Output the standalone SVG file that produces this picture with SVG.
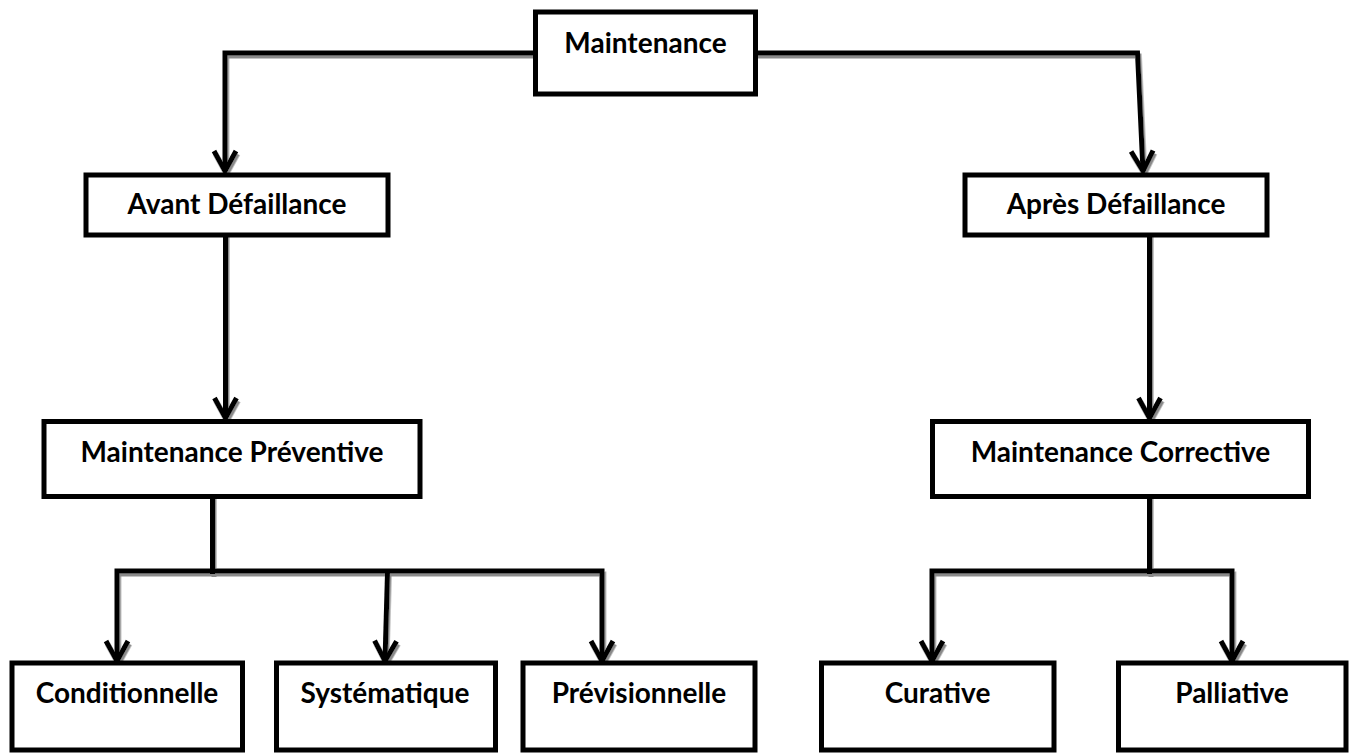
<svg xmlns="http://www.w3.org/2000/svg" width="1354" height="753" viewBox="0 0 1354 753">
<style>
.box{fill:#fff;stroke:#000;stroke-width:5}
.lbl{font-family:Lato,"Open Sans","Liberation Sans",sans-serif;font-weight:700;font-size:28px;fill:#000;text-anchor:middle}
.con{fill:none;stroke:#000;stroke-width:5;stroke-linejoin:miter}
</style>
<defs>
<marker id="arr" markerUnits="userSpaceOnUse" orient="auto" refX="0" refY="0" markerWidth="40" markerHeight="40" viewBox="-30 -20 40 40" overflow="visible">
<path d="M-20,-11 L0,0 L-20,11" fill="none" stroke="#000" stroke-width="5" stroke-linejoin="miter"/>
</marker>
<filter id="sh" x="-5%" y="-5%" width="110%" height="110%">
<feDropShadow dx="1.5" dy="3" stdDeviation="0.6" flood-color="#8a8a8a" flood-opacity="1"/>
</filter>
</defs>
<rect width="1354" height="753" fill="#fff"/>
<g id="connectors" filter="url(#sh)">
<path class="con" d="M535.5,53 L225,53 L225,171" marker-end="url(#arr)"/>
<path class="con" d="M755.5,53 L1137.5,53 L1143,171" marker-end="url(#arr)"/>
<path class="con" d="M225.5,228 L225.5,418" marker-end="url(#arr)"/>
<path class="con" d="M1149.5,228 L1149.5,418" marker-end="url(#arr)"/>
<path class="con" d="M212.5,493 L212.5,574"/>
<path class="con" d="M117,661 L117,571 L602,571 L602,661" marker-end="url(#arr)" marker-start="url(#arrs)"/>
<path class="con" d="M387.5,573 L385,661" marker-end="url(#arr)"/>
<path class="con" d="M1149.5,493 L1149.5,574"/>
<path class="con" d="M932,661 L932,571 L1232,571 L1232,661" marker-end="url(#arr)" marker-start="url(#arrs)"/>
</g>
<defs>
<marker id="arrs" markerUnits="userSpaceOnUse" orient="auto-start-reverse" refX="0" refY="0" markerWidth="40" markerHeight="40" viewBox="-30 -20 40 40" overflow="visible">
<path d="M-20,-11 L0,0 L-20,11" fill="none" stroke="#000" stroke-width="5" stroke-linejoin="miter"/>
</marker>
</defs>
<g id="n-maintenance"><rect class="box" x="535.5" y="12" width="220" height="82"/><text class="lbl" x="645.5" y="52.5">Maintenance</text></g>
<g id="n-avant"><rect class="box" x="86" y="175" width="302" height="60"/><text class="lbl" x="237" y="214">Avant Défaillance</text></g>
<g id="n-apres"><rect class="box" x="965" y="175" width="302" height="60"/><text class="lbl" x="1116" y="214">Après Défaillance</text></g>
<g id="n-preventive"><rect class="box" x="44" y="421.5" width="376" height="75"/><text class="lbl" x="232" y="461.5">Maintenance Préventive</text></g>
<g id="n-corrective"><rect class="box" x="932.5" y="421.5" width="376" height="75"/><text class="lbl" x="1120.5" y="461.5">Maintenance Corrective</text></g>
<g id="n-conditionnelle"><rect class="box" x="12" y="663" width="230.5" height="87"/><text class="lbl" x="127" y="703">Conditionnelle</text></g>
<g id="n-systematique"><rect class="box" x="276.5" y="663" width="219" height="87"/><text class="lbl" x="385" y="703">Systématique</text></g>
<g id="n-previsionnelle"><rect class="box" x="523" y="663" width="232" height="87"/><text class="lbl" x="639" y="703">Prévisionnelle</text></g>
<g id="n-curative"><rect class="box" x="821.5" y="663" width="232.5" height="87"/><text class="lbl" x="937.5" y="703">Curative</text></g>
<g id="n-palliative"><rect class="box" x="1118.5" y="663" width="227.5" height="87"/><text class="lbl" x="1232" y="703">Palliative</text></g>
</svg>
